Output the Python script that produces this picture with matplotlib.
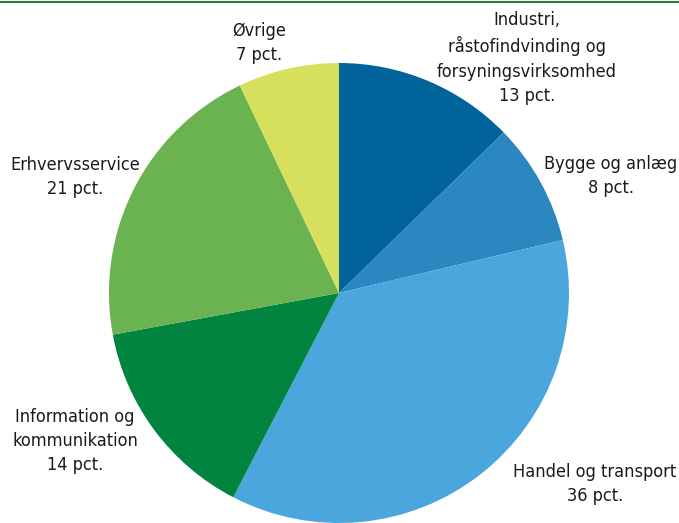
import matplotlib
matplotlib.use('Agg')
import matplotlib.pyplot as plt
from matplotlib import font_manager

# data
categories = ["Industri,\nråstofindvinding og\nforsyningsvirksomhed", "Bygge og anlæg",
              "Handel og transport", "Information og\nkommunikation", "Erhvervsservice", "Øvrige"]
shares = [12.7, 8.6, 36.3, 14.5, 20.8, 7.1]
pct_labels = ["13 pct.", "8 pct.", "36 pct.", "14 pct.", "21 pct.", "7 pct."]
colors = ["#00649a", "#2b87bf", "#4ba6de", "#00843f", "#6bb250", "#d7e05d"]

# label centres in pixels
label_pos = [(527, 58), (611, 176), (595, 484), (75, 441), (75, 177), (259, 43)]

W, H = 679, 523
cx, cy, r = 339, 293, 230

# use a narrow font if one is around
names = {f.name for f in font_manager.fontManager.ttflist}
condensed = any(f.name == 'DejaVu Sans' and f.stretch == 'condensed' for f in font_manager.fontManager.ttflist)
if 'Liberation Sans Narrow' in names:
    fam, stretch, fs = 'Liberation Sans Narrow', 'normal', 14
elif condensed:
    fam, stretch, fs = 'DejaVu Sans', 'condensed', 13
else:
    fam, stretch, fs = 'DejaVu Sans', 'normal', 12

plt.rcParams['font.family'] = [fam, 'DejaVu Sans']
fig = plt.figure(figsize=(W / 100, H / 100), dpi=100)
ax = fig.add_axes([(cx - r) / W, (H - cy - r) / H, 2 * r / W, 2 * r / H])
ax.pie(shares, colors=colors, startangle=90, counterclock=False, radius=1,
       wedgeprops=dict(linewidth=0))
ax.set_xlim(-1, 1)
ax.set_ylim(-1, 1)
ax.set_aspect('equal')
ax.axis('off')

for cat, pct, (px, py) in zip(categories, pct_labels, label_pos):
    ax.text((px - cx) / r, (cy - py) / r, cat + "\n" + pct, ha='center', va='center',
            fontsize=fs, fontstretch=stretch, linespacing=1.45, color='#1a1a1a', clip_on=False)

# top rule
fig.add_artist(plt.Line2D([0, 1], [1 - 1.5 / H, 1 - 1.5 / H], color='#2e7d32', linewidth=1.5))

fig.savefig("out.png", dpi=100)
